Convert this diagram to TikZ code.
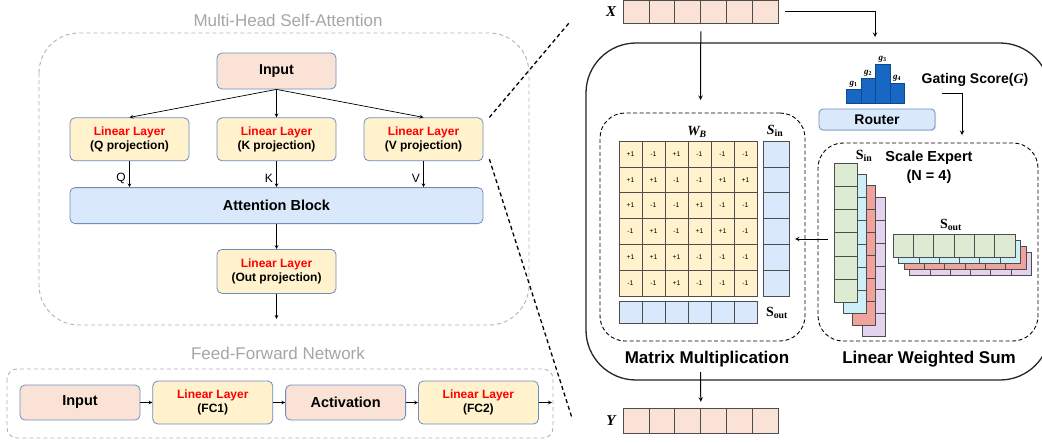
\documentclass[tikz,border=0pt]{standalone}
\usepackage{fontspec}
\setmainfont{Liberation Sans}
\newfontfamily\mathfont{Liberation Serif}
\usepackage{xcolor}
\usepackage{tikz}
\usetikzlibrary{arrows, positioning, calc, shadows}

\definecolor{peach}{HTML}{FAE3D6}
\definecolor{lightyellow}{HTML}{FFF2CC}
\definecolor{lightblue}{HTML}{DAE8FC}
\definecolor{edgeblue}{HTML}{6C8EBF}
\definecolor{titlegray}{HTML}{A6A6A6}
\definecolor{dashgray}{HTML}{B3B3B3}
\definecolor{routerblue}{HTML}{1668C4}
\definecolor{expgreen}{HTML}{DDEBD3}
\definecolor{expcyan}{HTML}{CDEFF8}
\definecolor{expred}{HTML}{EFA39C}
\definecolor{exppurple}{HTML}{E3D3EE}
\definecolor{cellgray}{HTML}{4D4D4D}

\newcommand{\mathbi}[1]{{\mathfont\bfseries\itshape #1}}
\newcommand{\mathbu}[1]{{\mathfont\bfseries #1}}

\begin{document}
\begin{tikzpicture}[
    x=1pt, y=-1pt,
    box/.style={rectangle, draw=edgeblue, line width=0.8pt, rounded corners=5pt, align=center, inner sep=2pt},
    inputbox/.style={box, fill=peach, minimum width=119pt, minimum height=36pt, font=\fontsize{14.3}{17}\selectfont\bfseries},
    linearbox/.style={box, fill=lightyellow, minimum width=119pt, minimum height=43pt, font=\fontsize{12}{14.5}\selectfont\bfseries},
    attnbox/.style={box, fill=lightblue, minimum width=413pt, minimum height=36pt, font=\fontsize{14.5}{17}\selectfont\bfseries},
    group/.style={draw=dashgray, dash pattern=on 4pt off 3pt, line width=0.9pt},
    grouptitle/.style={text=titlegray, font=\fontsize{17}{20}\selectfont},
    arrow/.style={->, >=stealth, line width=0.7pt},
    bigarrow/.style={->, >=stealth, line width=1pt},
    zoomline/.style={dash pattern=on 4pt off 3pt, line width=1.3pt},
    panel/.style={rectangle, draw, dash pattern=on 4pt off 2.5pt, line width=0.9pt, rounded corners=25pt},
    cell/.style={rectangle, draw=cellgray, line width=0.6pt, inner sep=0pt},
    vcell/.style={cell, fill=peach, minimum width=25.83pt},
    wcell/.style={cell, fill=lightyellow, minimum width=23pt, minimum height=25.83pt, font=\fontsize{6.8}{7}\selectfont},
    scell/.style={cell, fill=lightblue},
    bar/.style={rectangle, draw=routerblue!70!black, fill=routerblue, line width=0.5pt, minimum width=14.5pt, inner sep=0pt},
    mathlabel/.style={font=\fontsize{15}{17}\selectfont, inner sep=0pt},
    caption/.style={font=\fontsize{17}{20}\selectfont\bfseries}
]
\path[use as bounding box, fill=white] (0,0) rectangle (1042,442);

% Multi-Head Self-Attention
\node[grouptitle] (mhsatitle) at (288,20) {Multi-Head Self-Attention};
\draw[group, rounded corners=40pt] (39,33) rectangle (529,325);
\node[inputbox] (input) at (276.5,71) {Input};
\node[linearbox, below=28pt of input, xshift=-147pt] (qproj) {{\color{red}Linear Layer}\\(Q projection)};
\node[linearbox, below=28pt of input] (kproj) {{\color{red}Linear Layer}\\(K projection)};
\node[linearbox, below=28pt of input, xshift=147pt] (vproj) {{\color{red}Linear Layer}\\(V projection)};
\node[attnbox, below=26pt of kproj] (attn) {Attention Block};
\node[linearbox, minimum height=44pt, below=25pt of attn] (outproj) {{\color{red}Linear Layer}\\(Out projection)};
\coordinate[below=25pt of outproj] (mhsaend);

% Feed-Forward Network
\node[grouptitle] (ffntitle) at (278,353) {Feed-Forward Network};
\draw[group, rounded corners=10pt] (7,369) rectangle (553,438);
\node[inputbox, minimum width=120pt, minimum height=35pt, font=\fontsize{14.5}{17}\selectfont\bfseries] (ffnin) at (80,402.5) {Input};
\node[linearbox, minimum width=120pt, right=12pt of ffnin] (fc1) {{\color{red}Linear Layer}\\(FC1)};
\node[inputbox, minimum width=120pt, minimum height=35pt, font=\fontsize{14.5}{17}\selectfont\bfseries, right=12pt of fc1] (act) {Activation};
\node[linearbox, minimum width=120pt, right=12pt of act] (fc2) {{\color{red}Linear Layer}\\(FC2)};
\coordinate[right=13pt of fc2] (ffnend);

% Arrows (left)
\draw[arrow] (input.south) -- (qproj.north);
\draw[arrow] (input.south) -- (kproj.north);
\draw[arrow] (input.south) -- (vproj.north);
\draw[arrow] (qproj) -- node[pos=0.65, left, font=\fontsize{12}{14}\selectfont] {Q} (qproj |- attn.north);
\draw[arrow] (kproj) -- node[pos=0.65, left, font=\fontsize{12}{14}\selectfont] {K} (kproj |- attn.north);
\draw[arrow] (vproj) -- node[pos=0.65, left, font=\fontsize{12}{14}\selectfont] {V} (vproj |- attn.north);
\draw[arrow] (attn) -- (outproj);
\draw[arrow] (outproj) -- (mhsaend);
\draw[arrow] (ffnin) -- (fc1);
\draw[arrow] (fc1) -- (act);
\draw[arrow] (act) -- (fc2);
\draw[arrow] (fc2) -- (ffnend);

% Zoom lines
\coordinate (zoomtop) at (569,23);
\coordinate (zoombot) at (572,418);
\draw[zoomline] ([xshift=6pt]vproj.north east) -- (zoomtop);
\draw[zoomline] ([xshift=6pt, yshift=2pt]vproj.south east) -- (zoombot);

% Input / output vectors
\node[mathlabel] (xlabel) at (611,12) {\mathbi{X}};
\foreach \i in {0,...,5}
    \node[vcell, minimum height=22.5pt] (x\i) at (623+12.92+\i*25.83, 11.75) {};
\node[mathlabel] (ylabel) at (611,421) {\mathbi{Y}};
\foreach \i in {0,...,5}
    \node[vcell, minimum height=25pt] (y\i) at (623+12.92+\i*25.83, 420.5) {};

% Scale MoE block
\draw[line width=1.3pt, draw=black!85, rounded corners=50pt] (586,43) rectangle (1050,380);

% Router
\foreach \h [count=\i] in {14,25,39,20}
    \node[bar, minimum height=\h*1pt, anchor=south west,
          label={[font=\fontsize{9}{10}\selectfont, inner sep=1pt]above:\mathbi{g}\textsubscript{\mathbu{\i}}}] (g\i) at (846+\i*14.5-14.5, 103) {};
\node[box, fill=lightblue, rounded corners=4pt, minimum width=116pt, minimum height=21pt, font=\fontsize{14}{16}\selectfont\bfseries,
      drop shadow={shadow xshift=1pt, shadow yshift=-1pt, opacity=0.25}] (router) at (877,119.5) {Router};
\node[font=\fontsize{14}{16}\selectfont\bfseries] (gating) at (975,80) {Gating Score(\mathbi{G})};

% Matrix Multiplication
\node[panel, minimum width=205pt, minimum height=228pt] (mmpanel) at (702.5,227) {};
\node[mathlabel, font=\fontsize{14}{16}\selectfont] (wlabel) at (697,132) {\mathbi{W}\textsubscript{\mathbi{B}}};
\node[mathlabel, font=\fontsize{14}{16}\selectfont] (sinlabel) at (775,131) {\mathbi{S}\textsubscript{\mathbu{in}}};
\foreach \row [count=\r] in {{+1,-1,+1,-1,-1,-1},{+1,+1,-1,-1,+1,+1},{+1,-1,-1,+1,-1,-1},
                              {-1,+1,-1,+1,+1,-1},{+1,+1,+1,-1,-1,-1},{-1,-1,+1,-1,-1,-1}} {
    \foreach \v [count=\c] in \row {
        \node[wcell] (w\r\c) at (619+11.5+\c*23-23, 141+12.92+\r*25.83-25.83) {\v};
    }
}
\foreach \r in {1,...,6}
    \node[scell, minimum width=26pt, minimum height=25.83pt] (sin\r) at (776, 141+12.92+\r*25.83-25.83) {};
\foreach \c in {1,...,6}
    \node[scell, minimum width=23pt, minimum height=22pt] (sout\c) at (619+11.5+\c*23-23, 312) {};
\node[mathlabel, font=\fontsize{14}{16}\selectfont] (soutlabel) at (777,313) {\mathbu{S}\textsubscript{\mathbu{out}}};
\node[caption] (mmcaption) at (707,359) {Matrix Multiplication};

% Linear Weighted Sum
\node[panel, minimum width=220pt, minimum height=198pt] (sepanel) at (928,242) {};
\node[align=center, font=\fontsize{14.5}{19}\selectfont\bfseries] (setitle) at (929,167.5) {Scale Expert\\(N = 4)};
\foreach \col/\k in {exppurple/3, expred/2, expcyan/1, expgreen/0} {
    \foreach \r in {1,...,6}
        \node[cell, fill=\col, minimum width=23pt, minimum height=23.2pt] (ein\k\r) at (834+9.3*\k+11.5, 163+11.3*\k+11.6+\r*23.2-23.2) {};
    \foreach \c in {1,...,6}
        \node[cell, fill=\col, minimum width=20.3pt, minimum height=23pt] (eout\k\c) at (893+5.5*\k+10.15+\c*20.3-20.3, 234+6*\k+11.5) {};
}
\node[mathlabel, font=\fontsize{14}{16}\selectfont] (einlabel) at (864,156) {\mathbu{S}\textsubscript{\mathbu{in}}};
\node[mathlabel, font=\fontsize{14}{16}\selectfont] (eoutlabel) at (951,225) {\mathbu{S}\textsubscript{\mathbu{out}}};
\node[caption] (lwscaption) at (929,359) {Linear Weighted Sum};

% Arrows (right)
\coordinate (routerin) at (875,37);
\coordinate (mmin) at (700.5,100);
\coordinate (gatestart) at (942,93);
\coordinate (gatetip) at (962,135);
\coordinate (seout) at (828,239);
\coordinate (mmleft) at (795,239);
\coordinate (mmout) at (700.5,372);
\draw[bigarrow] ([xshift=7pt]x5.east) -| (routerin);
\draw[bigarrow] ([yshift=-8pt]x2.south east) -- (mmin);
\draw[bigarrow] (gatestart) -| (gatetip);
\draw[bigarrow] (seout) -- (mmleft);
\draw[bigarrow] (mmout) -- ([yshift=6pt]y2.north east);

\end{tikzpicture}
\end{document}
